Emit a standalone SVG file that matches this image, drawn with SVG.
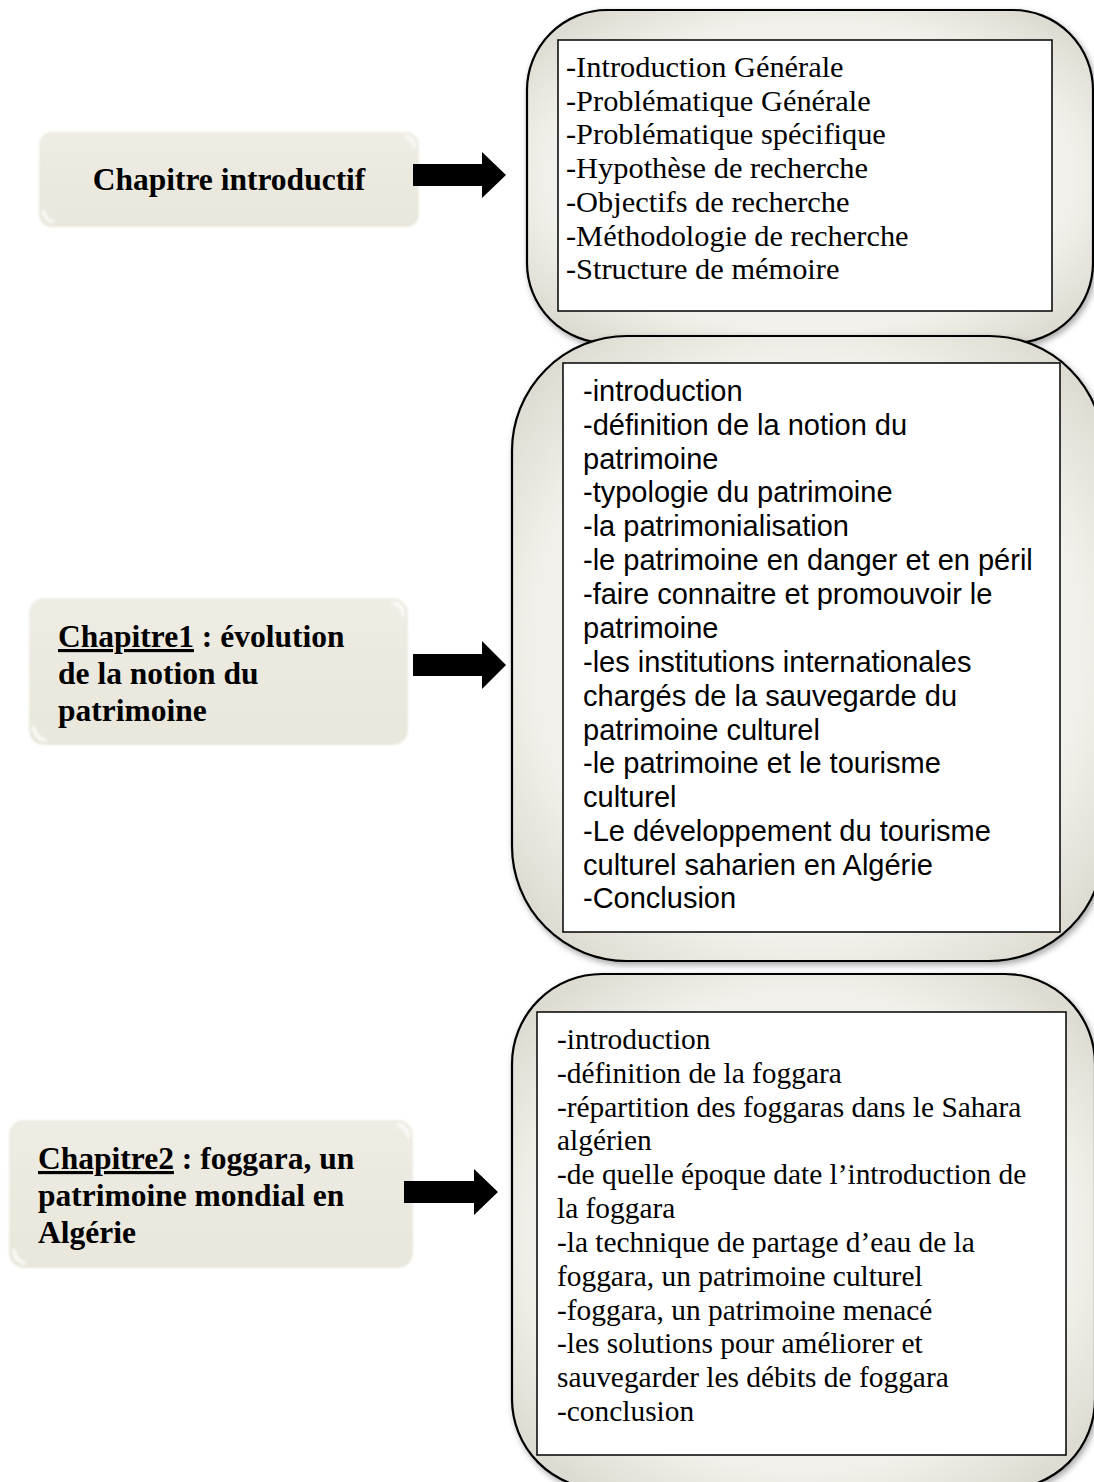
<svg xmlns="http://www.w3.org/2000/svg" width="1094" height="1482" viewBox="0 0 1094 1482">
  <style>
    .serif { font-family: "Liberation Serif", "Times New Roman", serif; fill: #000; }
    .sans { font-family: "Liberation Sans", Arial, sans-serif; fill: #000; }
    .title { font-size: 31.5px; font-weight: bold; }
    .list { font-size: 30.4px; }
    .list-small { font-size: 29.4px; }
    .list-sans { font-size: 29px; }
    .chip { fill: url(#chipFill); }
    .gloss { fill: #FFFFFF; opacity: 0.85; }
    .panel { fill: url(#panelFill); stroke: #000; stroke-width: 2.2; filter: url(#panelShadow); }
    .sheet { fill: #fff; stroke: #000; stroke-width: 1.5; }
    .arrow { fill: #000; }
  </style>
  <defs>
    <linearGradient id="chipFill" x1="0" y1="0" x2="0" y2="1">
      <stop offset="0" stop-color="#EEECE3"/>
      <stop offset="1" stop-color="#E9E7DC"/>
    </linearGradient>
    <radialGradient id="panelFill" cx="0.5" cy="0.5" r="0.62">
      <stop offset="0.75" stop-color="#F1F0EA"/>
      <stop offset="1" stop-color="#DEDCD2"/>
    </radialGradient>
    <filter id="panelShadow" x="-5%" y="-5%" width="112%" height="112%">
      <feDropShadow dx="2" dy="3" stdDeviation="3" flood-color="#000" flood-opacity="0.35"/>
    </filter>
    <filter id="softEdge" x="-5%" y="-10%" width="110%" height="120%">
      <feGaussianBlur stdDeviation="1.2"/>
    </filter>
    <filter id="glow" x="-50%" y="-50%" width="200%" height="200%">
      <feGaussianBlur stdDeviation="1.5"/>
    </filter>
  </defs>

  <!-- right-hand content panels -->
  <g id="panel-intro">
    <rect class="panel" x="527" y="10" width="566" height="333" rx="80"/>
    <rect class="sheet" x="558" y="40" width="494" height="271"/>
    <text class="serif list" x="566" y="77">
      <tspan x="566" y="77">-Introduction Générale</tspan>
      <tspan x="566" y="111">-Problématique Générale</tspan>
      <tspan x="566" y="144">-Problématique spécifique</tspan>
      <tspan x="566" y="178">-Hypothèse de recherche</tspan>
      <tspan x="566" y="212">-Objectifs de recherche</tspan>
      <tspan x="566" y="246">-Méthodologie de recherche</tspan>
      <tspan x="566" y="279">-Structure de mémoire</tspan>
    </text>
  </g>

  <g id="panel-ch1">
    <rect class="panel" x="512" y="336" width="592" height="625" rx="115"/>
    <rect class="sheet" x="563" y="363" width="497" height="569"/>
    <text class="sans list-sans" x="583" y="401">
      <tspan x="583" y="401">-introduction</tspan>
      <tspan x="583" y="435">-définition de la notion du</tspan>
      <tspan x="583" y="469">patrimoine</tspan>
      <tspan x="583" y="502">-typologie du patrimoine</tspan>
      <tspan x="583" y="536">-la patrimonialisation</tspan>
      <tspan x="583" y="570">-le patrimoine en danger et en péril</tspan>
      <tspan x="583" y="604">-faire connaitre et promouvoir le</tspan>
      <tspan x="583" y="638">patrimoine</tspan>
      <tspan x="583" y="672">-les institutions internationales</tspan>
      <tspan x="583" y="706">chargés de la sauvegarde du</tspan>
      <tspan x="583" y="740">patrimoine culturel</tspan>
      <tspan x="583" y="773">-le patrimoine et le tourisme</tspan>
      <tspan x="583" y="807">culturel</tspan>
      <tspan x="583" y="841">-Le développement du tourisme</tspan>
      <tspan x="583" y="875">culturel saharien en Algérie</tspan>
      <tspan x="583" y="908">-Conclusion</tspan>
    </text>
  </g>

  <g id="panel-ch2">
    <rect class="panel" x="512" y="974" width="583" height="515" rx="90"/>
    <rect class="sheet" x="537" y="1012" width="529" height="443"/>
    <text class="serif list-small" x="557" y="1049">
      <tspan x="557" y="1049">-introduction</tspan>
      <tspan x="557" y="1083">-définition de la foggara</tspan>
      <tspan x="557" y="1117">-répartition des foggaras dans le Sahara</tspan>
      <tspan x="557" y="1150">algérien</tspan>
      <tspan x="557" y="1184">-de quelle époque date l’introduction de</tspan>
      <tspan x="557" y="1218">la foggara</tspan>
      <tspan x="557" y="1252">-la technique de partage d’eau de la</tspan>
      <tspan x="557" y="1286">foggara, un patrimoine culturel</tspan>
      <tspan x="557" y="1320">-foggara, un patrimoine menacé</tspan>
      <tspan x="557" y="1353">-les solutions pour améliorer et</tspan>
      <tspan x="557" y="1387">sauvegarder les débits de foggara</tspan>
      <tspan x="557" y="1421">-conclusion</tspan>
    </text>
  </g>

  <!-- left-hand chapter labels -->
  <g id="chapter-intro">
    <rect class="chip" x="39" y="132" width="380" height="95" rx="13" filter="url(#softEdge)"/>
    <path class="gloss" d="M405,135 q10,1 11,13 l-3,0 q-1,-8 -8,-10 z" filter="url(#glow)"/>
    <path class="gloss" d="M42,210 q1,12 12,14 l0,-3 q-8,-2 -9,-11 z" filter="url(#glow)"/>
    <text class="serif title" x="229" y="190" text-anchor="middle">Chapitre introductif</text>
  </g>

  <g id="chapter-1">
    <rect class="chip" x="29" y="598" width="379" height="147" rx="15" filter="url(#softEdge)"/>
    <path class="gloss" d="M392,601 q12,1 13,15 l-3,0 q-1,-9 -10,-12 z" filter="url(#glow)"/>
    <path class="gloss" d="M32,726 q1,14 14,16 l0,-3 q-9,-2 -11,-13 z" filter="url(#glow)"/>
    <text class="serif title" x="58" y="647">
      <tspan x="58" y="647"><tspan text-decoration="underline">Chapitre1</tspan> : évolution</tspan>
      <tspan x="58" y="684">de la notion du</tspan>
      <tspan x="58" y="721">patrimoine</tspan>
    </text>
  </g>

  <g id="chapter-2">
    <rect class="chip" x="9" y="1120" width="404" height="148" rx="15" filter="url(#softEdge)"/>
    <path class="gloss" d="M397,1123 q12,1 13,15 l-3,0 q-1,-9 -10,-12 z" filter="url(#glow)"/>
    <path class="gloss" d="M12,1249 q1,14 14,16 l0,-3 q-9,-2 -11,-13 z" filter="url(#glow)"/>
    <text class="serif title" x="38" y="1169">
      <tspan x="38" y="1169"><tspan text-decoration="underline">Chapitre2</tspan> : foggara, un</tspan>
      <tspan x="38" y="1206">patrimoine mondial en</tspan>
      <tspan x="38" y="1243">Algérie</tspan>
    </text>
  </g>

  <!-- block arrows from each chapter to its contents -->
  <g id="connectors">
    <polygon class="arrow" points="413,164 482,164 482,152 506,175 482,198 482,186 413,186"/>
    <polygon class="arrow" points="413,654 482,654 482,641 506,665 482,689 482,676 413,676"/>
    <polygon class="arrow" points="404,1181 474,1181 474,1169 498,1192 474,1215 474,1203 404,1203"/>
  </g>
</svg>
